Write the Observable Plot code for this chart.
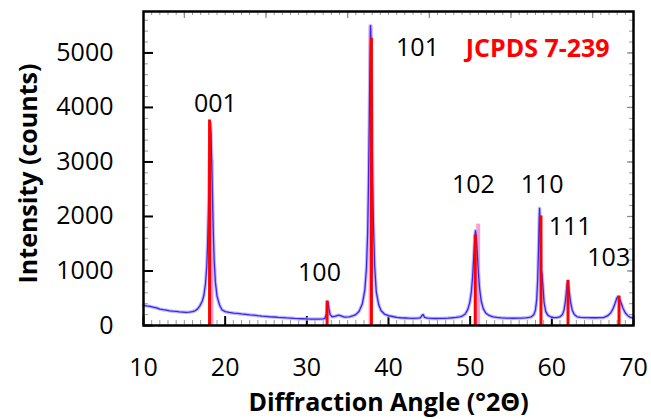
<!DOCTYPE html>
<html><head><meta charset="utf-8">
<script src="https://cdn.jsdelivr.net/npm/d3@7"></script>
<script src="https://cdn.jsdelivr.net/npm/@observablehq/plot@0.6"></script>
<style>body{margin:0;background:#fff} svg{display:block}</style>
</head><body><div id="chart"></div>
<script>
// Measured XRD pattern (2θ in degrees, intensity in counts)
const angle = [
  10.0,10.4,10.8,11.2,11.6,12.0,12.4,12.8,13.2,13.6,14.0,14.4,14.8,15.2,15.6,16.0,16.3,16.6,16.9,17.2,17.4,17.6,17.75,17.85,17.95,18.05,18.12,18.2,18.27,18.35,18.45,18.55,18.65,18.8,19.0,19.3,19.6,20.0,
  20.5,21.0,21.5,22.0,22.5,23.0,23.5,24.0,24.5,25.0,25.5,26.0,26.5,27.0,27.5,28.0,28.5,29.0,29.5,30.0,30.5,31.0,31.5,32.0,
  32.2,32.4,32.52,32.6,32.7,32.85,33.1,33.5,33.9,34.2,34.6,35.2,35.7,
  36.0,36.4,36.8,37.1,37.3,37.45,37.55,37.65,37.73,37.8,37.87,37.95,38.05,38.15,38.3,38.5,38.8,39.1,39.5,40.0,
  40.5,41.0,41.5,42.0,42.5,43.0,43.5,43.9,44.1,44.25,44.4,44.8,45.3,45.8,46.3,46.8,47.3,47.8,48.3,48.7,
  49.0,49.4,49.7,49.95,50.15,50.3,50.45,50.57,50.65,50.75,50.87,51.0,51.15,51.35,51.6,51.9,52.3,52.8,
  53.3,53.8,54.3,54.8,55.3,55.8,56.3,56.8,57.2,
  57.5,57.8,58.0,58.15,58.27,58.37,58.45,58.5,58.56,58.63,58.72,58.82,58.92,59.05,59.25,59.5,59.9,60.2,
  60.6,61.0,61.3,61.5,61.65,61.78,61.88,61.95,62.03,62.15,62.3,62.5,62.75,63.1,
  63.5,64.0,64.5,65.0,65.5,65.9,
  66.3,66.8,67.2,67.5,67.75,67.95,68.1,68.25,68.45,68.7,69.0,69.3,69.6,70.0
];
const counts = [
  370,360,352,335,322,300,290,282,270,262,258,250,246,242,245,255,270,300,360,450,560,780,1100,1500,2100,2900,3450,3710,3550,3050,2350,1700,1200,800,540,380,290,255,
  240,228,222,212,205,196,190,180,172,166,160,156,150,146,140,136,130,126,124,120,118,117,118,122,
  130,210,400,430,320,200,160,170,190,175,155,160,180,
  200,260,400,650,1050,1700,2600,3800,4900,5500,5150,4100,2900,1900,1100,620,380,270,210,180,
  165,150,142,138,134,132,134,140,185,200,150,136,130,128,130,132,136,142,150,160,
  170,210,290,420,620,900,1300,1620,1740,1640,1350,980,680,450,310,230,185,160,
  148,140,136,134,133,134,136,140,148,
  160,200,290,480,850,1400,1950,2150,1900,1350,1000,920,700,420,260,190,155,145,
  145,160,200,290,430,620,770,800,760,600,420,280,200,160,
  150,145,143,142,142,143,
  145,175,230,310,410,500,530,505,430,320,230,180,150,140
];
// Reference pattern JCPDS 7-239 (red sticks)
const refAngle = [18.09, 32.48, 37.91, 50.62, 58.67, 61.98, 68.23];
const refIntensity = [3770, 450, 5270, 1660, 2010, 830, 540];
// Second (light pink) reference sticks
const pinkAngle = [18.33, 37.8, 50.98];
const pinkIntensity = [3030, 5510, 1860];
// Peak (hkl) labels
const hkl = ["001", "100", "101", "102", "110", "111", "103"];
const hklAngle = [18.8, 31.55, 43.55, 50.4, 58.82, 62.25, 66.97];
const hklCount = [4060, 956, 5090, 2570, 2570, 1800, 1230];
// Axis ticks
const xTicks = [10, 20, 30, 40, 50, 60, 70];
const yTicks = [0, 1000, 2000, 3000, 4000, 5000];

const W = 651, H = 419, mL = 143, mR = 18, mT = 11, mB = 94;
const innerH = H - mT - mB, innerW = W - mL - mR;
const xMinor = d3.range(10, 71, 1);
const xMid = [15, 25, 35, 45, 55, 65];
const yMinor = d3.range(0, 5760, 200);

const font = "'Open Sans', sans-serif";
const chart = Plot.plot({
  width: W, height: H,
  marginLeft: mL, marginRight: mR, marginTop: mT, marginBottom: mB,
  style: {fontFamily: font, background: "white", color: "black"},
  x: {domain: [10, 70]},
  y: {domain: [0, 5760]},
  marks: [
    // inward minor/major ticks
    Plot.ruleX(xMinor, {x: d => d, stroke: "#9a9a9a", strokeWidth: 1, insetTop: innerH - 5}),
    Plot.ruleX(xMinor, {x: d => d, stroke: "#9a9a9a", strokeWidth: 1, insetBottom: innerH - 4}),
    Plot.ruleX(xMid, {x: d => d, stroke: "#888", strokeWidth: 1.2, insetBottom: innerH - 7}),
    Plot.ruleX(xTicks, {x: d => d, stroke: "black", strokeWidth: 2, insetTop: innerH - 9}),
    Plot.ruleY(yMinor, {y: d => d, stroke: "#9a9a9a", strokeWidth: 1, insetRight: innerW - 5}),
    Plot.ruleY(yMinor, {y: d => d, stroke: "#9a9a9a", strokeWidth: 1, insetLeft: innerW - 4}),
    Plot.ruleY(yTicks, {y: d => d, stroke: "black", strokeWidth: 2, insetRight: innerW - 10}),
    Plot.ruleY(yTicks, {y: d => d, stroke: "#888", strokeWidth: 1.2, insetLeft: innerW - 6}),
    // pink reference sticks
    Plot.ruleX(pinkAngle, {x: pinkAngle, y1: 0, y2: pinkIntensity, stroke: "#ff9fd0", strokeWidth: 4}),
    // measured pattern
    Plot.line(angle, {x: angle, y: counts, stroke: "#b3abff", strokeWidth: 3.5, strokeOpacity: 0.8}),
    Plot.line(angle, {x: angle, y: counts, stroke: "#3726ee", strokeWidth: 1.3}),
    // red JCPDS sticks
    Plot.ruleX(refAngle, {x: refAngle, y1: 0, y2: refIntensity, stroke: "#ff0000", strokeWidth: 3}),
    // labels
    Plot.text(hkl, {x: hklAngle, y: hklCount, text: hkl, fontSize: 25, fill: "black"}),
    Plot.text(["JCPDS 7-239"], {x: [58.27], y: [5075], text: d => d, fontSize: 25, fontWeight: "bold", fill: "#ff0000"}),
    // axes
    Plot.axisX({ticks: xTicks, tickSize: 0, tickPadding: 33, fontSize: 25, tickFormat: "d", label: null}),
    Plot.axisY({ticks: yTicks, tickSize: 0, tickPadding: 30, fontSize: 25, tickFormat: "d", label: null}),
    Plot.text(["Diffraction Angle (°2Θ)"], {frameAnchor: "bottom", dy: 77, lineAnchor: "middle", textAnchor: "middle", text: d => d, fontSize: 25, fontWeight: "bold", fill: "black"}),
    Plot.text(["Intensity (counts)"], {frameAnchor: "left", dx: -115, dy: 5, rotate: -90, lineAnchor: "middle", textAnchor: "middle", text: d => d, fontSize: 25, fontWeight: "bold", fill: "black"}),
    Plot.frame({stroke: "black", strokeWidth: 2.5})
  ]
});
document.getElementById("chart").append(chart);
</script>
</body></html>
